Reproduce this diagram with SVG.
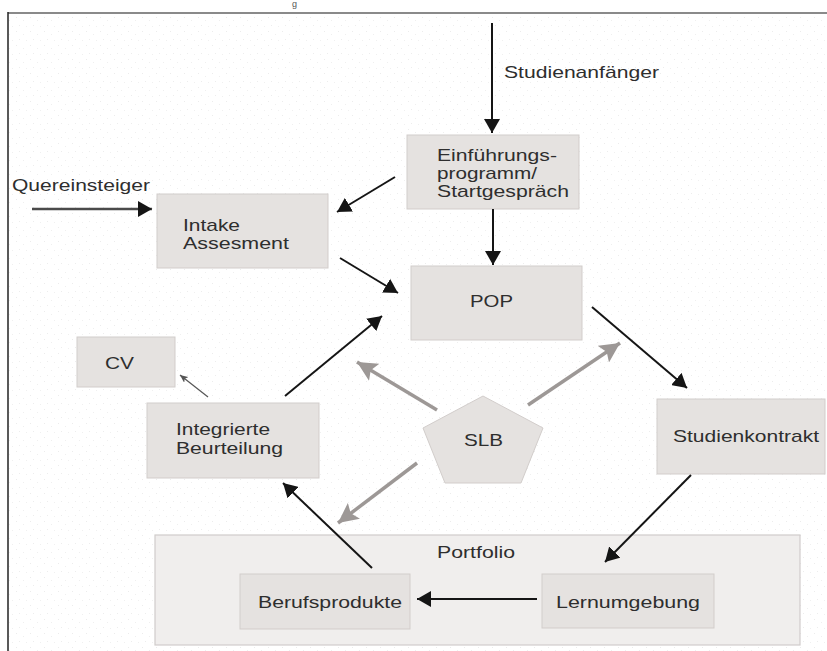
<svg xmlns="http://www.w3.org/2000/svg" width="827" height="651" viewBox="0 0 827 651">
<style>
.box{fill:#e5e2e0;stroke:#d2cdcb;stroke-width:1}
.big{fill:#f0eeed;stroke:#d0cccb;stroke-width:1.2}
.t{font-family:"Liberation Sans",Arial,sans-serif;font-size:17px;fill:#2e2e2e}
.blk{stroke:#151515;stroke-width:2;fill:none;marker-end:url(#ah)}
.gry{stroke:#9d9896;stroke-width:3.5;fill:none;marker-end:url(#ag)}
.thin{stroke:#555;stroke-width:1.2;fill:none;marker-end:url(#at)}
</style>
<defs>
<pattern id="dots" width="14" height="14" patternUnits="userSpaceOnUse">
<rect x="2" y="3" width="1" height="1" fill="#ececec"/>
<rect x="9" y="6" width="1" height="1" fill="#efefef"/>
<rect x="5" y="11" width="1" height="1" fill="#ededed"/>
<rect x="12" y="12" width="1" height="1" fill="#f0f0f0"/>
</pattern>
<marker id="ah" viewBox="0 0 14 16" refX="14" refY="8" markerWidth="14" markerHeight="16" orient="auto" markerUnits="userSpaceOnUse"><path d="M0,0 L14,8 L0,16 z" fill="#151515"/></marker>
<marker id="ag" viewBox="0 0 20 20" refX="20" refY="10" markerWidth="20" markerHeight="20" orient="auto" markerUnits="userSpaceOnUse"><path d="M0,0 L20,10 L0,20 L4,10 z" fill="#9d9896"/></marker>
<marker id="at" viewBox="0 0 8 7" refX="8" refY="3.5" markerWidth="8" markerHeight="7" orient="auto" markerUnits="userSpaceOnUse"><path d="M0,0 L8,3.5 L0,7 L2,3.5 z" fill="#555"/></marker>
</defs>
<rect x="0" y="0" width="827" height="651" fill="#fff"/>
<rect x="9" y="14" width="818" height="637" fill="url(#dots)"/>
<text x="292" y="7" style="font-family:'Liberation Sans',Arial,sans-serif;font-size:9px;fill:#555">g</text>
<line x1="8" y1="13" x2="827" y2="13" stroke="#8a8a8a" stroke-width="2"/>
<line x1="8" y1="12" x2="8" y2="651" stroke="#222" stroke-width="1.5"/>

<g id="portfolio"><rect class="big" x="155" y="535" width="645" height="110"/><text class="t" x="437" y="558" textLength="78" lengthAdjust="spacingAndGlyphs">Portfolio</text></g>
<g id="einfuehrung"><rect class="box" x="407" y="135" width="172" height="74"/>
<text class="t" x="437" y="161" textLength="120" lengthAdjust="spacingAndGlyphs">Einführungs-</text>
<text class="t" x="437" y="179" textLength="100" lengthAdjust="spacingAndGlyphs">programm/</text>
<text class="t" x="437" y="197" textLength="132" lengthAdjust="spacingAndGlyphs">Startgespräch</text></g>
<g id="intake"><rect class="box" x="157" y="194" width="171" height="74"/>
<text class="t" x="183" y="231" textLength="57" lengthAdjust="spacingAndGlyphs">Intake</text>
<text class="t" x="183" y="249" textLength="106" lengthAdjust="spacingAndGlyphs">Assesment</text></g>
<g id="pop"><rect class="box" x="411" y="266" width="171" height="74"/><text class="t" x="470" y="307" textLength="43" lengthAdjust="spacingAndGlyphs">POP</text></g>
<g id="cv"><rect class="box" x="77" y="337" width="98" height="50"/><text class="t" x="105" y="369" textLength="29" lengthAdjust="spacingAndGlyphs">CV</text></g>
<g id="integrierte"><rect class="box" x="147" y="403" width="172" height="75"/>
<text class="t" x="176" y="435" textLength="94" lengthAdjust="spacingAndGlyphs">Integrierte</text>
<text class="t" x="176" y="454" textLength="107" lengthAdjust="spacingAndGlyphs">Beurteilung</text></g>
<g id="slb"><polygon class="box" points="483,396 543,428 521,483 445,483 423,428"/><text class="t" x="464" y="446" textLength="39" lengthAdjust="spacingAndGlyphs">SLB</text></g>
<g id="studienkontrakt"><rect class="box" x="657" y="399" width="168" height="75"/><text class="t" x="673" y="442" textLength="146" lengthAdjust="spacingAndGlyphs">Studienkontrakt</text></g>
<g id="berufsprodukte"><rect class="box" x="240" y="574" width="170" height="55"/><text class="t" x="258" y="608" textLength="144" lengthAdjust="spacingAndGlyphs">Berufsprodukte</text></g>
<g id="lernumgebung"><rect class="box" x="542" y="574" width="172" height="54"/><text class="t" x="556" y="608" textLength="144" lengthAdjust="spacingAndGlyphs">Lernumgebung</text></g>

<g id="connectors">
<line class="blk" x1="492" y1="23" x2="492" y2="133"/>
<text class="t" x="504" y="78" textLength="155" lengthAdjust="spacingAndGlyphs">Studienanfänger</text>
<line class="blk" x1="32" y1="209" x2="152" y2="209" style="stroke:#4a4a4a;stroke-width:2.5"/>
<text class="t" x="12" y="191" textLength="138" lengthAdjust="spacingAndGlyphs">Quereinsteiger</text>
<line class="blk" x1="395" y1="177" x2="337" y2="212"/>
<line class="blk" x1="340" y1="258" x2="398" y2="293"/>
<line class="blk" x1="493" y1="209" x2="493" y2="265"/>
<line class="blk" x1="592" y1="307" x2="687" y2="388"/>
<line class="blk" x1="691" y1="475" x2="605" y2="562"/>
<line class="blk" x1="537" y1="599" x2="417" y2="599"/>
<line class="blk" x1="372" y1="568" x2="283" y2="483"/>
<line class="blk" x1="285" y1="396" x2="382" y2="316"/>
<line class="thin" x1="208" y1="397" x2="180" y2="375"/>
<line class="gry" x1="437" y1="410" x2="357" y2="362"/>
<line class="gry" x1="528" y1="405" x2="620" y2="343"/>
<line class="gry" x1="417" y1="463" x2="338" y2="523"/>
</g>
</svg>
